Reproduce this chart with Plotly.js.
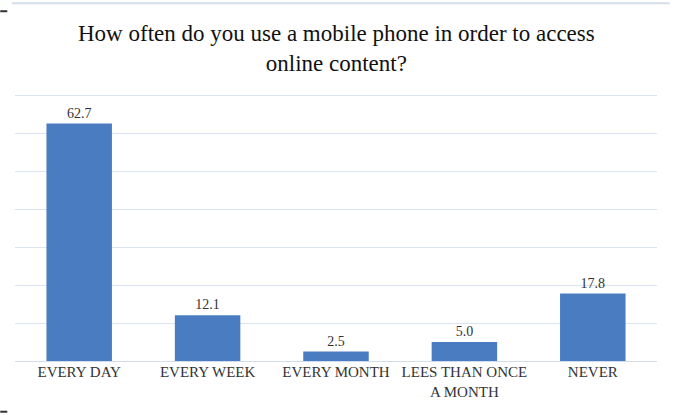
<!DOCTYPE html>
<html>
<head>
<meta charset="utf-8">
<script src="https://cdn.plot.ly/plotly-3.0.1.min.js"></script>
<style>html,body{margin:0;padding:0;background:#fff;}#chart{width:677px;height:415px;}</style>
</head>
<body>
<div id="chart"></div>
<script>
const categories = ["EVERY DAY", "EVERY WEEK", "EVERY MONTH", "LEES THAN ONCE<br>A MONTH", "NEVER"];
const values = [62.7, 12.1, 2.5, 5.0, 17.8];
const valueLabels = ["62.7", "12.1", "2.5", "5.0", "17.8"];
const chartTitle = "How often do you use a mobile phone in order to access<br>online content?";

const serif = "Liberation Serif";

const trace = {
  type: "bar",
  x: categories,
  y: values,
  text: valueLabels,
  textposition: "outside",
  textfont: {family: serif, size: 14, color: "#333333"},
  cliponaxis: false,
  marker: {color: "#4a7cc2", line: {width: 0}},
  hoverinfo: "none"
};

const layout = {
  width: 677,
  height: 415,
  margin: {l: 15, r: 20, t: 94, b: 54},
  paper_bgcolor: "#ffffff",
  plot_bgcolor: "#ffffff",
  showlegend: false,
  bargap: 0.49,
  font: {family: serif},
  annotations: [{
    text: chartTitle,
    font: {family: "Times New Roman, Times, serif", size: 23, color: "#111111"},
    xref: "paper", yref: "paper",
    x: 0.5, xanchor: "center",
    y: 1.17, yanchor: "middle",
    showarrow: false,
    align: "center"
  }],
  xaxis: {
    tickfont: {family: serif, size: 15, color: "#333333"},
    showgrid: false,
    showline: false,
    ticks: "",
    zeroline: false,
    fixedrange: true
  },
  yaxis: {
    range: [0, 70.5],
    tickvals: [10, 20, 30, 40, 50, 60, 70],
    showticklabels: false,
    showgrid: true,
    gridcolor: "#dbe3f1",
    gridwidth: 1,
    zeroline: true,
    zerolinecolor: "#d3dcec",
    zerolinewidth: 1,
    ticks: "",
    fixedrange: true
  },
  shapes: [
    {type: "line", xref: "paper", yref: "paper", x0: -0.005, x1: 1.02, y0: 1.34, y1: 1.34,
     line: {color: "#d5deeb", width: 2}},
    {type: "line", xref: "paper", yref: "paper", x0: -0.023, x1: -0.012, y0: 1.31, y1: 1.31,
     line: {color: "#333333", width: 2}},
    {type: "line", xref: "paper", yref: "paper", x0: -0.023, x1: -0.012, y0: -0.19, y1: -0.19,
     line: {color: "#333333", width: 2}}
  ]
};

Plotly.newPlot("chart", [trace], layout, {displayModeBar: false, staticPlot: true});
</script>
</body>
</html>
